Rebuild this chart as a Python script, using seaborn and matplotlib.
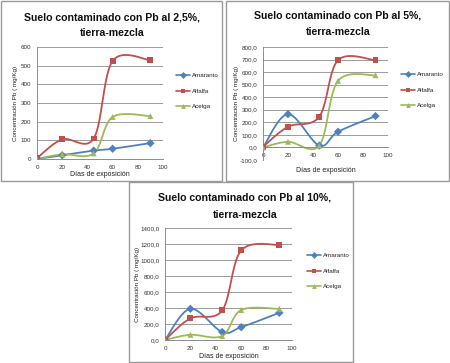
import numpy as np
import pandas as pd
import matplotlib
matplotlib.use("Agg")
import matplotlib.pyplot as plt
from matplotlib.lines import Line2D
from matplotlib.patches import Rectangle
from matplotlib.ticker import FuncFormatter
import seaborn as sns

# data
dias = [0, 20, 45, 60, 90]
series = ["Amaranto", "Alfalfa", "Acelga"]

amaranto_25 = [0, 20, 45, 55, 85]
alfalfa_25 = [5, 105, 110, 525, 530]
acelga_25 = [0, 25, 30, 225, 230]

amaranto_5 = [0, 265, 15, 125, 250]
alfalfa_5 = [5, 165, 245, 695, 695]
acelga_5 = [0, 45, 15, 530, 575]

amaranto_10 = [0, 390, 100, 160, 340]
alfalfa_10 = [0, 270, 370, 1120, 1190]
acelga_10 = [0, 65, 50, 375, 390]

titles = [
    ["Suelo contaminado con Pb al 2,5%,", "tierra-mezcla"],
    ["Suelo contaminado con Pb al 5%,", "tierra-mezcla"],
    ["Suelo contaminado con Pb al 10%,", "tierra-mezcla"],
]

colors = {"Amaranto": "#4F81BD", "Alfalfa": "#C0504D", "Acelga": "#9BBB59"}
markers = {"Amaranto": "D", "Alfalfa": "s", "Acelga": "^"}

sns.set_style("white")
plt.rcParams["font.family"] = ["Liberation Sans", "DejaVu Sans"]
title_font = ["Liberation Sans Narrow", "Liberation Sans", "DejaVu Sans"]

W, H = 450, 363


def smooth(x, y, n=30):
    # Excel-style smoothed line (parametric Bezier through the points)
    p = np.column_stack([x, y]).astype(float)
    p = np.vstack([p[0], p, p[-1]])
    out = []
    for i in range(1, len(p) - 2):
        p0, p1, p2, p3 = p[i - 1], p[i], p[i + 1], p[i + 2]
        c1 = p1 + (p2 - p0) / 6
        c2 = p2 - (p3 - p1) / 6
        t = np.linspace(0, 1, n)[:, None]
        b = ((1 - t) ** 3) * p1 + 3 * ((1 - t) ** 2) * t * c1 + 3 * (1 - t) * t ** 2 * c2 + t ** 3 * p2
        out.append(b)
    out = np.vstack(out)
    return out[:, 0], out[:, 1]


def box(x0, y0, x1, y1):
    return [x0 / W, 1 - y1 / H, (x1 - x0) / W, (y1 - y0) / H]


def panel(fig, frame, ax_box, values, title, title_pos, ylim, step, decimals,
          zero_axis, legend_xy, xlabel_y, ylabel_x):
    x0, y0, x1, y1 = frame
    fig.patches.append(Rectangle((x0 / W, 1 - y1 / H), (x1 - x0) / W, (y1 - y0) / H,
                                 transform=fig.transFigure, fill=False,
                                 edgecolor="#9A9A9A", linewidth=1.0))
    ax = fig.add_axes(box(*ax_box))

    rows = []
    for name, vals in zip(series, values):
        sx, sy = smooth(dias, vals)
        rows.append(pd.DataFrame({"x": sx, "y": sy, "serie": name}))
    curves = pd.concat(rows)
    pts = pd.DataFrame({
        "x": np.tile(dias, 3),
        "y": np.concatenate(values),
        "serie": np.repeat(series, len(dias)),
    })

    sns.lineplot(data=curves, x="x", y="y", hue="serie", palette=colors, sort=False,
                 estimator=None, units="serie", linewidth=1.3, legend=False, ax=ax)
    sns.scatterplot(data=pts, x="x", y="y", hue="serie", style="serie", palette=colors,
                    markers=markers, s=18, edgecolor="none", legend=False, ax=ax, zorder=5)

    ax.set_xlim(0, 100)
    ax.set_ylim(*ylim)
    ax.set_xticks(np.arange(0, 101, 20))
    ax.set_yticks(np.arange(ylim[0], ylim[1] + 1, step))
    if decimals:
        ax.yaxis.set_major_formatter(FuncFormatter(lambda v, p: f"{v:.1f}".replace(".", ",")))
    ax.grid(axis="y", color="#8C8C8C", linewidth=0.6)
    ax.set_axisbelow(True)
    for s in ["top", "right"]:
        ax.spines[s].set_visible(False)
    for s in ["left", "bottom"]:
        ax.spines[s].set_color("#8C8C8C")
        ax.spines[s].set_linewidth(0.7)
    if zero_axis:
        ax.spines["bottom"].set_position(("data", 0))
    ax.tick_params(axis="both", labelsize=4.5, length=2.5, width=0.6, color="#8C8C8C",
                   pad=1.5, labelcolor="#333333")
    ax.set_xlabel("")
    ax.set_ylabel("")
    fig.text(ylabel_x / W, 1 - (ax_box[1] + ax_box[3]) / 2 / H, "Concentración Pb ( mg/Kg)",
             rotation=90, ha="center", va="center", fontsize=4.5, color="#222222")
    fig.text((ax_box[0] + ax_box[2]) / 2 / W, 1 - xlabel_y / H, "Días de exposición",
             ha="center", va="center", fontsize=5, color="#222222")
    tx, ty1, ty2 = title_pos
    for line, ty in zip(title, [ty1, ty2]):
        fig.text(tx / W, 1 - ty / H, line, ha="center", va="center", family=title_font,
                 fontsize=7.6, fontweight="bold", color="#111111")

    handles = [Line2D([0], [0], color=colors[n], marker=markers[n], markersize=3.5,
                      linewidth=1.2, markeredgewidth=0) for n in series]
    ax.legend(handles, series, loc="upper left", frameon=False, fontsize=4.5,
              bbox_to_anchor=(legend_xy[0] / W, 1 - legend_xy[1] / H),
              bbox_transform=fig.transFigure, handlelength=2.2, handletextpad=0.3,
              labelspacing=1.6, borderpad=0, borderaxespad=0)
    return ax


fig = plt.figure(figsize=(W / 100, H / 100), dpi=100)
fig.patch.set_facecolor("white")

panel(fig, (1, 1, 222, 181), (37, 47, 163, 159),
      [amaranto_25, alfalfa_25, acelga_25], titles[0], (112, 17, 33),
      (0, 600), 100, False, False, (176, 73), 175, 16)

panel(fig, (226, 1, 449, 181), (263, 47, 388, 160),
      [amaranto_5, alfalfa_5, acelga_5], titles[1], (338, 15, 32),
      (-100, 800), 100, True, True, (401, 72), 171, 236)

panel(fig, (129, 182, 353, 362), (165, 228, 292, 340),
      [amaranto_10, alfalfa_10, acelga_10], titles[2], (245, 198, 215),
      (0, 1400), 200, True, False, (307, 253), 356, 137)

fig.savefig("out.png", dpi=100, facecolor="white")
